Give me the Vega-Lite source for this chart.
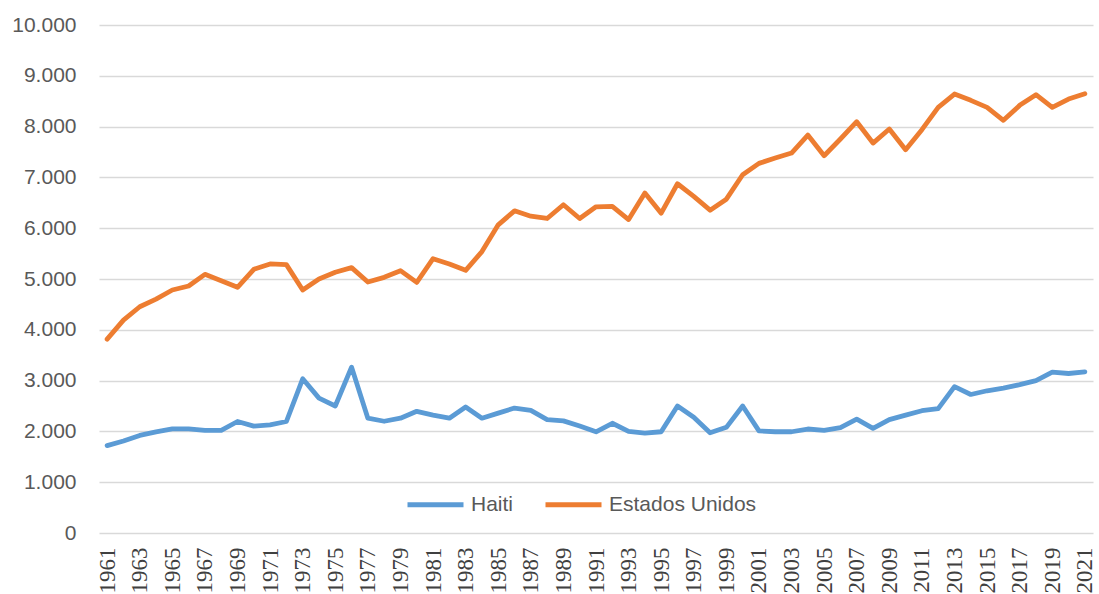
{
  "$schema": "https://vega.github.io/schema/vega-lite/v6.json",
  "width": 994,
  "height": 508,
  "autosize": {"type": "none"},
  "padding": {"left": 99, "top": 25, "right": 6, "bottom": 61},
  "background": "white",
  "config": {"view": {"stroke": null}},
  "data": {"values": [
    {"year": 1961, "Haiti": 1720, "Estados Unidos": 3816},
    {"year": 1962, "Haiti": 1810, "Estados Unidos": 4190},
    {"year": 1963, "Haiti": 1920, "Estados Unidos": 4454},
    {"year": 1964, "Haiti": 1990, "Estados Unidos": 4605},
    {"year": 1965, "Haiti": 2050, "Estados Unidos": 4783},
    {"year": 1966, "Haiti": 2050, "Estados Unidos": 4862},
    {"year": 1967, "Haiti": 2020, "Estados Unidos": 5092},
    {"year": 1968, "Haiti": 2020, "Estados Unidos": 4967},
    {"year": 1969, "Haiti": 2195, "Estados Unidos": 4836},
    {"year": 1970, "Haiti": 2105, "Estados Unidos": 5191},
    {"year": 1971, "Haiti": 2130, "Estados Unidos": 5296},
    {"year": 1972, "Haiti": 2195, "Estados Unidos": 5283},
    {"year": 1973, "Haiti": 3035, "Estados Unidos": 4783},
    {"year": 1974, "Haiti": 2655, "Estados Unidos": 5000},
    {"year": 1975, "Haiti": 2500, "Estados Unidos": 5132},
    {"year": 1976, "Haiti": 3265, "Estados Unidos": 5224},
    {"year": 1977, "Haiti": 2260, "Estados Unidos": 4941},
    {"year": 1978, "Haiti": 2200, "Estados Unidos": 5033},
    {"year": 1979, "Haiti": 2260, "Estados Unidos": 5164},
    {"year": 1980, "Haiti": 2395, "Estados Unidos": 4934},
    {"year": 1981, "Haiti": 2320, "Estados Unidos": 5400},
    {"year": 1982, "Haiti": 2260, "Estados Unidos": 5296},
    {"year": 1983, "Haiti": 2480, "Estados Unidos": 5171},
    {"year": 1984, "Haiti": 2260, "Estados Unidos": 5539},
    {"year": 1985, "Haiti": 2360, "Estados Unidos": 6066},
    {"year": 1986, "Haiti": 2460, "Estados Unidos": 6342},
    {"year": 1987, "Haiti": 2413, "Estados Unidos": 6237},
    {"year": 1988, "Haiti": 2233, "Estados Unidos": 6191},
    {"year": 1989, "Haiti": 2207, "Estados Unidos": 6461},
    {"year": 1990, "Haiti": 2107, "Estados Unidos": 6191},
    {"year": 1991, "Haiti": 1993, "Estados Unidos": 6421},
    {"year": 1992, "Haiti": 2160, "Estados Unidos": 6428},
    {"year": 1993, "Haiti": 2000, "Estados Unidos": 6171},
    {"year": 1994, "Haiti": 1967, "Estados Unidos": 6691},
    {"year": 1995, "Haiti": 1993, "Estados Unidos": 6296},
    {"year": 1996, "Haiti": 2500, "Estados Unidos": 6875},
    {"year": 1997, "Haiti": 2280, "Estados Unidos": 6625},
    {"year": 1998, "Haiti": 1973, "Estados Unidos": 6355},
    {"year": 1999, "Haiti": 2080, "Estados Unidos": 6572},
    {"year": 2000, "Haiti": 2500, "Estados Unidos": 7053},
    {"year": 2001, "Haiti": 2010, "Estados Unidos": 7276},
    {"year": 2002, "Haiti": 1993, "Estados Unidos": 7381},
    {"year": 2003, "Haiti": 1993, "Estados Unidos": 7479},
    {"year": 2004, "Haiti": 2047, "Estados Unidos": 7834},
    {"year": 2005, "Haiti": 2020, "Estados Unidos": 7427},
    {"year": 2006, "Haiti": 2073, "Estados Unidos": 7755},
    {"year": 2007, "Haiti": 2240, "Estados Unidos": 8097},
    {"year": 2008, "Haiti": 2060, "Estados Unidos": 7676},
    {"year": 2009, "Haiti": 2233, "Estados Unidos": 7952},
    {"year": 2010, "Haiti": 2320, "Estados Unidos": 7545},
    {"year": 2011, "Haiti": 2407, "Estados Unidos": 7939},
    {"year": 2012, "Haiti": 2447, "Estados Unidos": 8379},
    {"year": 2013, "Haiti": 2880, "Estados Unidos": 8641},
    {"year": 2014, "Haiti": 2727, "Estados Unidos": 8517},
    {"year": 2015, "Haiti": 2800, "Estados Unidos": 8379},
    {"year": 2016, "Haiti": 2853, "Estados Unidos": 8123},
    {"year": 2017, "Haiti": 2920, "Estados Unidos": 8418},
    {"year": 2018, "Haiti": 3000, "Estados Unidos": 8628},
    {"year": 2019, "Haiti": 3167, "Estados Unidos": 8379},
    {"year": 2020, "Haiti": 3140, "Estados Unidos": 8543},
    {"year": 2021, "Haiti": 3173, "Estados Unidos": 8648}
  ]},
  "transform": [{"fold": ["Haiti", "Estados Unidos"], "as": ["country", "value"]}],
  "mark": {"type": "line", "strokeWidth": 4.8, "strokeCap": "round", "strokeJoin": "round"},
  "encoding": {
    "x": {
      "field": "year",
      "type": "ordinal",
      "scale": {"type": "point", "padding": 0.5},
      "axis": {
        "title": null,
        "domain": false,
        "ticks": false,
        "grid": false,
        "labelAngle": -90,
        "labelFont": "Liberation Serif",
        "labelFontSize": 23,
        "labelColor": "#404040",
        "labelPadding": 14,
        "values": [1961,1963,1965,1967,1969,1971,1973,1975,1977,1979,1981,1983,1985,1987,1989,1991,1993,1995,1997,1999,2001,2003,2005,2007,2009,2011,2013,2015,2017,2019,2021]
      }
    },
    "y": {
      "field": "value",
      "type": "quantitative",
      "scale": {"domain": [0, 10000], "nice": false},
      "axis": {
        "title": null,
        "domain": false,
        "ticks": false,
        "grid": true,
        "gridColor": "#D9D9D9",
        "gridWidth": 1.3,
        "values": [0,1000,2000,3000,4000,5000,6000,7000,8000,9000,10000],
        "labelExpr": "replace(format(datum.value, ','), ',', '.')",
        "labelFont": "Liberation Sans",
        "labelFontSize": 21,
        "labelColor": "#595959",
        "labelPadding": 23
      }
    },
    "color": {
      "field": "country",
      "type": "nominal",
      "scale": {"domain": ["Haiti", "Estados Unidos"], "range": ["#5B9BD5", "#ED7D31"]},
      "legend": {
        "title": null,
        "orient": "none",
        "legendX": 306,
        "legendY": 449,
        "direction": "horizontal",
        "symbolType": "stroke",
        "symbolStrokeWidth": 4.8,
        "symbolSize": 3136,
        "labelFont": "Liberation Sans",
        "labelFontSize": 21,
        "labelColor": "#595959",
        "labelOffset": 5,
        "columnPadding": 21,
        "labelLimit": 300
      }
    }
  }
}
